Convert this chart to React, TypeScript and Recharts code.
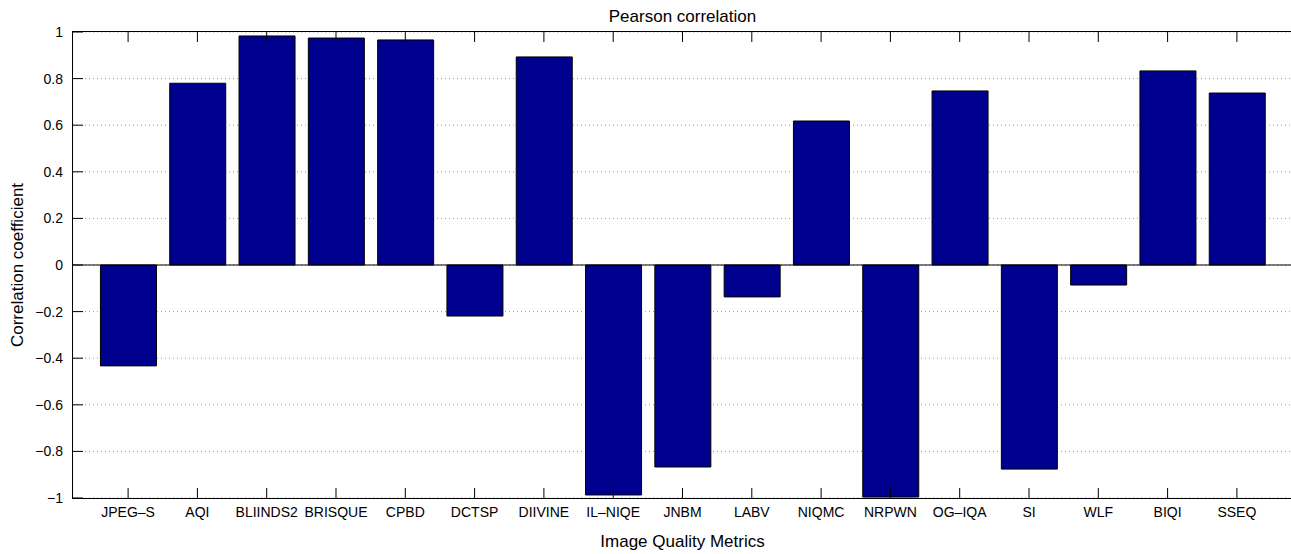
import { BarChart, Bar, XAxis, YAxis, CartesianGrid, ReferenceLine, Label } from "recharts";

const metrics = [
  "JPEG–S", "AQI", "BLIINDS2", "BRISQUE", "CPBD", "DCTSP", "DIIVINE", "IL–NIQE",
  "JNBM", "LABV", "NIQMC", "NRPWN", "OG–IQA", "SI", "WLF", "BIQI", "SSEQ",
];

const pearson = [
  -0.433, 0.78, 0.983, 0.974, 0.966, -0.219, 0.893, -0.987,
  -0.867, -0.137, 0.618, -0.996, 0.747, -0.876, -0.086, 0.833, 0.738,
];

const yTicks = [-1, -0.8, -0.6, -0.4, -0.2, 0, 0.2, 0.4, 0.6, 0.8, 1];
const xTicks = metrics.map((_, i) => i + 1);

// x limits of the axes box (bar positions 1..17)
const X_MIN = 0.205;
const X_MAX = 17.795;

const data = metrics.map((name, i) => ({ idx: i + 1, name, value: pearson[i] }));

const FONT = "'Liberation Sans', Arial, Helvetica, sans-serif";
const TICK = 10;

// chart box
const W = 1300;
const H = 554;
const M = { top: 31, right: 7, left: 0, bottom: 0 };
const Y_AXIS_W = 73;
const X_AXIS_H = 56;

const fmt = (v: number) => {
  const s = String(Math.abs(v));
  return v < 0 ? "\u2212" + s : s;
};

// ticks point into the plot, like the original figure
const BottomTick = (props: any) => {
  const { x, y, payload } = props;
  return (
    <g>
      <line x1={x} x2={x} y1={y} y2={y - TICK} stroke="#000" />
      <text x={x} y={y + 19} textAnchor="middle" fontSize={14} fill="#000">
        {metrics[payload.value - 1]}
      </text>
    </g>
  );
};

const TopTick = (props: any) => {
  const { x, y } = props;
  return <line x1={x} x2={x} y1={y} y2={y + TICK} stroke="#000" />;
};

const LeftTick = (props: any) => {
  const { x, y, payload } = props;
  return (
    <g>
      <line x1={x} x2={x + TICK} y1={y} y2={y} stroke="#000" />
      <text x={x - 10} y={y + 5} textAnchor="end" fontSize={14} fill="#000">
        {fmt(payload.value)}
      </text>
    </g>
  );
};

const RightTick = (props: any) => {
  const { x, y } = props;
  return <line x1={x} x2={x - TICK} y1={y} y2={y} stroke="#000" />;
};

export default function App() {
  // axes box outline drawn on top of the svg
  const boxLeft = M.left + Y_AXIS_W;
  const boxTop = M.top + 1;
  const boxW = W - M.right - 1 - boxLeft;
  const boxH = H - M.bottom - X_AXIS_H - boxTop;
  return (
    <div style={{ position: "absolute", left: 0, top: 0, width: 1291, height: 554, overflow: "hidden", background: "#fff" }}>
      <BarChart width={W} height={H} data={data} margin={M} style={{ fontFamily: FONT }}>
        <CartesianGrid vertical={false} horizontal stroke="#9a9a9a" strokeDasharray="1 3" />
        <XAxis
          dataKey="idx"
          type="number"
          domain={[X_MIN, X_MAX]}
          ticks={xTicks}
          allowDataOverflow
          height={X_AXIS_H}
          interval={0}
          tickSize={0}
          tickMargin={0}
          tickLine={false}
          axisLine={false}
          tick={<BottomTick />}
        >
          <Label value="Image Quality Metrics" position="insideBottom" offset={7} fill="#000" fontSize={17} />
        </XAxis>
        <XAxis
          xAxisId="top"
          orientation="top"
          dataKey="idx"
          type="number"
          domain={[X_MIN, X_MAX]}
          ticks={xTicks}
          allowDataOverflow
          height={1}
          interval={0}
          tickSize={0}
          tickMargin={0}
          tickLine={false}
          axisLine={false}
          tick={<TopTick />}
        >
          <Label value="Pearson correlation" position="top" offset={9} fill="#000" fontSize={17} />
        </XAxis>
        <YAxis
          width={Y_AXIS_W}
          domain={[-1, 1]}
          ticks={yTicks}
          interval={0}
          tickSize={0}
          tickMargin={0}
          tickLine={false}
          axisLine={false}
          tick={<LeftTick />}
        >
          <Label
            value="Correlation coefficient"
            angle={-90}
            position="insideLeft"
            offset={17}
            fill="#000"
            fontSize={17}
            style={{ textAnchor: "middle" }}
          />
        </YAxis>
        <YAxis
          yAxisId="right"
          orientation="right"
          width={1}
          domain={[-1, 1]}
          ticks={yTicks}
          interval={0}
          tickSize={0}
          tickMargin={0}
          tickLine={false}
          axisLine={false}
          tick={<RightTick />}
        />
        <ReferenceLine y={0} stroke="#000" strokeWidth={1} />
        <Bar dataKey="value" fill="#00008F" stroke="#000" strokeWidth={1} barSize={56} isAnimationActive={false} />
      </BarChart>
      <div
        style={{
          position: "absolute",
          left: boxLeft - 1,
          top: boxTop - 1,
          width: boxW + 2,
          height: boxH + 2,
          boxSizing: "border-box",
          border: "1.5px solid #000",
          pointerEvents: "none",
        }}
      />
    </div>
  );
}
